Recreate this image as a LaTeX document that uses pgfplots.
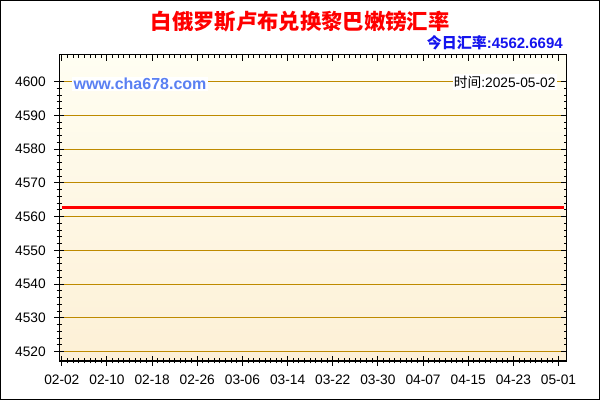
\documentclass[border=0pt]{standalone}
\usepackage{pgfplots}
\pgfplotsset{compat=1.18}
\usepackage{fontspec}
\setmainfont{Liberation Sans}
\newfontfamily\cjk{Noto Sans CJK SC}
\definecolor{gridc}{HTML}{BE8A00}
\definecolor{bgtop}{HTML}{FFFEF2}
\definecolor{bgbot}{HTML}{FDF0D6}
\definecolor{urlblue}{HTML}{5A80F2}
\definecolor{rateblue}{HTML}{1414EE}

\begin{document}
\begin{tikzpicture}[x=0.75pt,y=0.75pt]
\useasboundingbox (0,0) rectangle (600,400);
\fill[white] (0,0) rectangle (600,400);

% main axis: left/bottom ticks, labels, grid, data
\begin{axis}[
  at={(44.25pt,29.25pt)}, anchor=south west,
  scale only axis, width=381pt, height=229.5pt,
  xmin=-0.5, xmax=89.5, ymin=4517.2, ymax=4607.9,
  xtick={0,8,...,88},
  xticklabels={02-02,02-10,02-18,02-26,03-06,03-14,03-22,03-30,04-07,04-15,04-23,05-01},
  minor x tick num=7,
  ytick={4520,4530,...,4600},
  minor y tick num=4,
  xtick pos=lower, ytick pos=left,
  tick align=center,
  major tick length=7.5pt, minor tick length=3.75pt,
  tick style={black, line width=0.75pt},
  axis line style={black, line width=0.75pt},
  ymajorgrids, grid style={gridc, line width=0.75pt},
  axis background/.style={shade, top color=bgtop, bottom color=bgbot},
  ticklabel style={font=\fontsize{10.3}{12}\selectfont},
  /pgf/number format/assume math mode=true,
  /pgf/number format/1000 sep={},
  yticklabel style={anchor=east, inner sep=0pt, xshift=-6pt},
  xticklabel style={anchor=center, inner sep=0pt, yshift=-10pt},
]
\addplot[red, line width=2.25pt] coordinates {
  (0,4562.6694)(8,4562.6694)(16,4562.6694)(24,4562.6694)(32,4562.6694)
  (40,4562.6694)(48,4562.6694)(56,4562.6694)(64,4562.6694)(72,4562.6694)
  (80,4562.6694)(88,4562.6694)(89,4562.6694)
};
\end{axis}

% overlay axis: inside ticks on top and right
\begin{axis}[
  at={(44.25pt,29.25pt)}, anchor=south west,
  scale only axis, width=381pt, height=229.5pt,
  xmin=-0.5, xmax=89.5, ymin=4517.2, ymax=4607.9,
  xtick={0,8,...,88}, minor x tick num=7,
  ytick={4520,4530,...,4600}, minor y tick num=4,
  xtick pos=upper, ytick pos=right,
  tick align=inside,
  major tick length=4.5pt, minor tick length=2.25pt,
  tick style={black, line width=0.75pt},
  axis line style={black, line width=0.75pt},
  xticklabels={}, yticklabels={},
]
\end{axis}

\node[red, font=\cjk\bfseries\fontsize{16}{18}\selectfont] at (300,378) {白俄罗斯卢布兑换黎巴嫩镑汇率};
\node[anchor=east, rateblue, inner sep=0pt, font=\bfseries\fontsize{11.25}{13}\selectfont] at (563,357) {{\cjk 今日汇率}:4562.6694};
\node[anchor=west, urlblue, fill=white, inner sep=1pt, font=\bfseries\fontsize{12}{14}\selectfont] at (72,316) {www.cha678.com};
\node[anchor=east, black, fill=white, inner sep=1pt, font=\fontsize{10.3}{12}\selectfont] at (557,318) {{\cjk 时间}:2025-05-02};

\draw[black, line width=0.75pt] (0.5,0.5) rectangle (599.5,399.5);
\end{tikzpicture}
\end{document}
